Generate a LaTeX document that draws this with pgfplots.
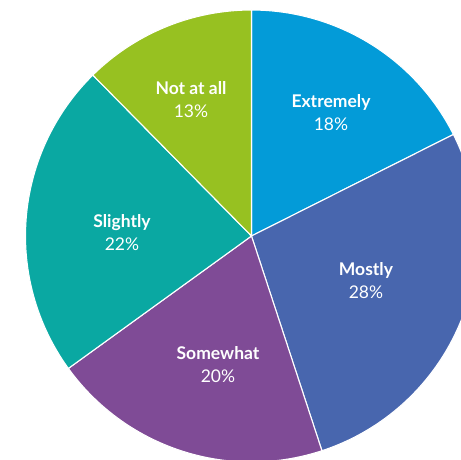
\documentclass[border=0pt]{standalone}
\usepackage{pgfplots}
\pgfplotsset{compat=1.18}
\usepackage{fontspec}
\setmainfont{Lato}
\definecolor{cExt}{HTML}{039BD8}
\definecolor{cMost}{HTML}{4866AE}
\definecolor{cSome}{HTML}{7F4B96}
\definecolor{cSli}{HTML}{0AA8A2}
\definecolor{cNot}{HTML}{97C121}
% shares of the pie (percent, as drawn)
\def\vA{17.6}\def\vB{27.4}\def\vC{20.1}\def\vD{22.6}\def\vE{12.4}
\pgfmathsetmacro\tot{\vA+\vB+\vC+\vD+\vE}
\pgfmathsetmacro\aA{90}
\pgfmathsetmacro\aB{\aA-360*\vA/\tot}
\pgfmathsetmacro\aC{\aB-360*\vB/\tot}
\pgfmathsetmacro\aD{\aC-360*\vC/\tot}
\pgfmathsetmacro\aE{\aD-360*\vD/\tot}
\pgfmathsetmacro\aF{\aE-360*\vE/\tot}
\def\R{226}
\begin{document}
\begin{tikzpicture}
\begin{axis}[
  scale only axis, width=461pt, height=459pt,
  xmin=-251.5, xmax=209.5, ymin=-223, ymax=236,
  hide axis, clip=true,
  every axis plot/.append style={draw=white, line width=1.1pt, samples=90, line join=round},
]
\addplot[fill=cExt, domain=\aB:\aA] ({\R*cos(x)},{\R*sin(x)}) -- (axis cs:0,0) -- cycle;
\addplot[fill=cMost, domain=\aC:\aB] ({\R*cos(x)},{\R*sin(x)}) -- (axis cs:0,0) -- cycle;
\addplot[fill=cSome, domain=\aD:\aC] ({\R*cos(x)},{\R*sin(x)}) -- (axis cs:0,0) -- cycle;
\addplot[fill=cSli, domain=\aE:\aD] ({\R*cos(x)},{\R*sin(x)}) -- (axis cs:0,0) -- cycle;
\addplot[fill=cNot, domain=\aF:\aE] ({\R*cos(x)},{\R*sin(x)}) -- (axis cs:0,0) -- cycle;
\tikzset{lab/.style={text=white, align=center, font=\fontsize{17.5}{23}\selectfont, anchor=center, inner sep=0pt}}
\node[lab] at (axis cs:79.5,123) {\textbf{Extremely}\\18\%};
\node[lab] at (axis cs:114.5,-45) {\textbf{Mostly}\\28\%};
\node[lab] at (axis cs:-33.5,-128.5) {\textbf{Somewhat}\\20\%};
\node[lab] at (axis cs:-129.5,3.5) {\textbf{Slightly}\\22\%};
\node[lab] at (axis cs:-60.5,136.5) {\textbf{Not at all}\\13\%};
\end{axis}
\pgfresetboundingbox
\path (current axis.south west) rectangle (current axis.north east);
\end{tikzpicture}
\end{document}
